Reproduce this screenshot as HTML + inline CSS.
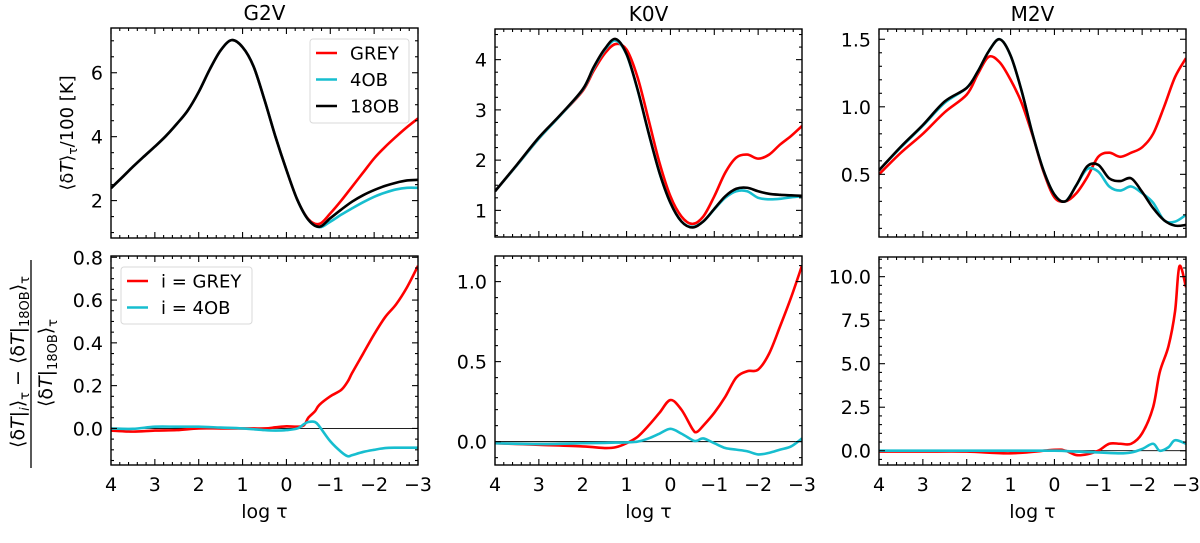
<!DOCTYPE html>
<html><head><meta charset="utf-8">
<style>
html,body{margin:0;padding:0;background:#fff;}
svg{display:block;font-family:"DejaVu Sans","Liberation Sans",sans-serif;}
</style></head>
<body>
<svg id="fig" width="1200" height="543" viewBox="0 0 1200 543" xmlns="http://www.w3.org/2000/svg">
<g id="labels">
<text x="73" y="133" font-size="18" text-anchor="middle" transform="rotate(-90 73 133)">⟨δ<tspan font-style="italic">T</tspan>⟩<tspan font-size="12" dy="4">τ</tspan><tspan dy="-4">/100 [K]</tspan></text>
<text x="24" y="362" font-size="19" text-anchor="middle" transform="rotate(-90 24 362)">⟨δ<tspan font-style="italic">T</tspan>|<tspan font-size="13" dy="5" font-style="italic">i</tspan><tspan dy="-5">⟩</tspan><tspan font-size="13" dy="5">τ</tspan><tspan dy="-5"> − ⟨δ</tspan><tspan font-style="italic">T</tspan>|<tspan font-size="13" dy="5">18OB</tspan><tspan dy="-5">⟩</tspan><tspan font-size="13" dy="5">τ</tspan></text>
<line x1="31" y1="260" x2="31" y2="468" stroke="#000" stroke-width="1.3"/>
<text x="52" y="363" font-size="19" text-anchor="middle" transform="rotate(-90 52 363)">⟨δ<tspan font-style="italic">T</tspan>|<tspan font-size="13" dy="5">18OB</tspan><tspan dy="-5">⟩</tspan><tspan font-size="13" dy="5">τ</tspan></text>
</g>
</svg>
<script>
// ---- data ----
const g2vTopX = [4,3.75,3.5,3.25,3,2.75,2.5,2.25,2,1.75,1.5,1.25,1,0.75,0.5,0.25,0,-0.25,-0.5,-0.75,-1,-1.25,-1.5,-1.75,-2,-2.25,-2.5,-2.75,-3];
const g2vTopGrey = [2.39,2.72,3.06,3.38,3.69,4.02,4.4,4.82,5.4,6.1,6.7,7.02,6.8,6.2,5.15,4.0,2.96,2.02,1.42,1.27,1.6,2.0,2.44,2.88,3.32,3.68,4.0,4.3,4.57];
const g2vTop4OB = [2.39,2.72,3.06,3.38,3.69,4.02,4.4,4.82,5.4,6.1,6.7,7.02,6.8,6.2,5.15,4.0,2.96,2.02,1.4,1.17,1.34,1.56,1.76,1.95,2.12,2.25,2.35,2.4,2.4];
const g2vTop18OB = [2.39,2.72,3.06,3.38,3.69,4.02,4.4,4.82,5.4,6.1,6.7,7.02,6.8,6.2,5.15,4.0,2.96,2.02,1.4,1.18,1.45,1.72,1.97,2.17,2.33,2.46,2.56,2.63,2.65];
const g2vBotX = [4,3.5,3,2.5,2,1.5,1,0.5,0.25,0,-0.25,-0.4,-0.5,-0.65,-0.75,-1,-1.25,-1.4,-1.5,-1.75,-2,-2.25,-2.5,-2.75,-3];
const g2vBotGrey = [-0.01,-0.015,-0.01,-0.008,0.0,0.0,0.0,0.0,0.005,0.01,0.008,0.015,0.05,0.08,0.11,0.15,0.18,0.22,0.26,0.35,0.44,0.52,0.58,0.66,0.76];
const g2vBot4OB = [0.0,-0.002,0.008,0.008,0.008,0.004,0.0,-0.008,-0.01,-0.008,0.0,0.02,0.03,0.03,0.01,-0.06,-0.11,-0.13,-0.125,-0.11,-0.1,-0.092,-0.09,-0.09,-0.09];
const k0vTopX = [4,3.5,3,2.5,2,1.75,1.5,1.25,1,0.75,0.5,0.25,0,-0.25,-0.5,-0.75,-1,-1.25,-1.5,-1.75,-2,-2.25,-2.5,-2.75,-3];
const k0vTopGrey = [1.38,1.9,2.43,2.9,3.38,3.78,4.12,4.31,4.2,3.65,2.81,1.95,1.28,0.88,0.73,0.88,1.28,1.75,2.05,2.11,2.03,2.11,2.31,2.48,2.68];
const k0vTop4OB = [1.38,1.9,2.43,2.9,3.4,3.83,4.19,4.38,4.1,3.4,2.55,1.75,1.15,0.78,0.67,0.78,1.02,1.25,1.38,1.38,1.25,1.22,1.23,1.26,1.28];
const k0vTop18OB = [1.38,1.91,2.45,2.91,3.41,3.85,4.21,4.41,4.11,3.41,2.55,1.75,1.15,0.78,0.66,0.78,1.03,1.28,1.43,1.45,1.38,1.33,1.31,1.3,1.29];
const k0vBotX = [4,3,2,1.5,1.25,1,0.75,0.5,0.25,0,-0.25,-0.5,-0.6,-0.75,-1,-1.25,-1.5,-1.75,-2,-2.25,-2.5,-2.75,-3];
const k0vBotGrey = [-0.01,-0.02,-0.03,-0.04,-0.035,-0.01,0.03,0.1,0.18,0.26,0.2,0.08,0.06,0.1,0.18,0.28,0.4,0.44,0.45,0.55,0.72,0.9,1.1];
const k0vBot4OB = [-0.01,-0.015,-0.01,-0.008,-0.006,-0.005,0.0,0.02,0.05,0.08,0.05,0.01,0.005,0.02,-0.01,-0.04,-0.05,-0.06,-0.08,-0.07,-0.05,-0.03,0.02];
const m2vTopX = [4,3.5,3,2.5,2,1.75,1.5,1.25,1,0.75,0.5,0.25,0,-0.25,-0.5,-0.75,-1,-1.25,-1.5,-1.75,-2,-2.25,-2.5,-2.75,-3];
const m2vTopGrey = [0.5,0.66,0.8,0.96,1.09,1.24,1.37,1.33,1.2,1.03,0.79,0.52,0.33,0.3,0.36,0.48,0.63,0.66,0.63,0.66,0.7,0.8,1.0,1.22,1.36];
const m2vTop4OB = [0.53,0.7,0.86,1.03,1.14,1.26,1.41,1.5,1.38,1.12,0.8,0.53,0.35,0.3,0.42,0.54,0.52,0.41,0.38,0.41,0.36,0.29,0.16,0.15,0.2];
const m2vTop18OB = [0.53,0.705,0.865,1.04,1.14,1.26,1.41,1.5,1.38,1.12,0.8,0.53,0.35,0.3,0.42,0.56,0.57,0.47,0.45,0.47,0.37,0.25,0.16,0.12,0.125];
const m2vBotGreyX = [4,3,2,1,0,-0.25,-0.5,-0.75,-1,-1.25,-1.5,-1.75,-2,-2.25,-2.4,-2.6,-2.75,-2.85,-3];
const m2vBotGrey = [-0.05,-0.05,-0.05,-0.15,0.05,0.0,-0.25,-0.2,0.0,0.4,0.4,0.4,1.0,2.5,4.5,6.0,8.0,10.6,9.4];
const m2vBot4OBX = [4,3,2,1,0,-0.5,-1,-1.5,-1.75,-2,-2.25,-2.4,-2.6,-2.75,-3];
const m2vBot4OB = [0,0,0,0,0,-0.05,-0.1,-0.15,-0.1,0.1,0.4,0.0,0.2,0.6,0.4];
const xTickLabels = ["4","3","2","1","0","−1","−2","−3"];

const NS="http://www.w3.org/2000/svg";
const svg=document.getElementById('fig');
function mk(tag,attrs,parent){const e=document.createElementNS(NS,tag);for(const k in attrs)e.setAttribute(k,attrs[k]);(parent||svg).appendChild(e);return e;}
function smoothPath(pts){
  let d="M"+pts[0][0].toFixed(2)+","+pts[0][1].toFixed(2);
  for(let i=0;i<pts.length-1;i++){
    const p0=pts[Math.max(0,i-1)],p1=pts[i],p2=pts[i+1],p3=pts[Math.min(pts.length-1,i+2)];
    const c1=[p1[0]+(p2[0]-p0[0])/6,p1[1]+(p2[1]-p0[1])/6];
    const c2=[p2[0]-(p3[0]-p1[0])/6,p2[1]-(p3[1]-p1[1])/6];
    d+=" C"+c1[0].toFixed(2)+","+c1[1].toFixed(2)+" "+c2[0].toFixed(2)+","+c2[1].toFixed(2)+" "+p2[0].toFixed(2)+","+p2[1].toFixed(2);
  }
  return d;
}
function panel(cfg){
  const g=mk('g',{});
  
  
  const L=cfg.x0,R=cfg.x0+307,T=cfg.y0,B=cfg.y1;
  const sx=v=>L+(4-v)/7*(R-L);
  const sy=v=>B-(v-cfg.ymin)/(cfg.ymax-cfg.ymin)*(B-T);
  const clip=mk('clipPath',{id:'c'+cfg.id},g);
  mk('rect',{x:L,y:T,width:R-L,height:B-T},clip);
  if(cfg.zero){const z=mk('line',{x1:L,x2:R,y1:sy(0),y2:sy(0),stroke:'#000','stroke-width':0.9},g);
    
    }
  const lines=mk('g',{'clip-path':'url(#c'+cfg.id+')'},g);
  cfg.series.forEach(s=>{
    const pts=s.xs.map((x,i)=>[sx(x),sy(s.ys[i])]);
    const p=mk('path',{d:smoothPath(pts),fill:'none',stroke:s.color,'stroke-width':2.6,'stroke-linejoin':'round'},lines);
    
    
  });
  const tk=mk('g',{stroke:'#000','stroke-width':1.1},g);
  for(let i=0;i<=35;i++){const v=4-i*0.2,x=sx(v),maj=(i%5===0),len=maj?6:3;
    mk('line',{x1:x,x2:x,y1:B,y2:B-len},tk);mk('line',{x1:x,x2:x,y1:T,y2:T+len},tk);}
  const start=Math.ceil(cfg.ymin/cfg.minor-1e-6);
  for(let k=start;k*cfg.minor<=cfg.ymax+1e-9;k++){const v=k*cfg.minor,y=sy(v);
    const maj=Math.abs(v/cfg.major-Math.round(v/cfg.major))<1e-6,len=maj?6:3;
    mk('line',{x1:L,x2:L+len,y1:y,y2:y},tk);mk('line',{x1:R,x2:R-len,y1:y,y2:y},tk);
    if(maj){const t=mk('text',{x:L-8,y:y+7,'font-size':19,'text-anchor':'end'},g);t.textContent=cfg.fmt(v);
      
      }}
  const fr=mk('rect',{x:L,y:T,width:R-L,height:B-T,fill:'none',stroke:'#000','stroke-width':1.4},g);
  
  
  if(cfg.xlabels){
    xTickLabels.forEach((lab,i)=>{const t=mk('text',{x:sx(4-i),y:B+26,'font-size':19,'text-anchor':'middle'},g);t.textContent=lab;
      
      });
    const xl=mk('text',{x:(L+R)/2,y:B+53,'font-size':19,'text-anchor':'middle'},g);xl.textContent='log τ';
    
    
  }
  if(cfg.title){const t=mk('text',{x:(L+R)/2,y:T-8,'font-size':20,'text-anchor':'middle'},g);t.textContent=cfg.title;
    
    }
  return {sx,sy,g};
}
const RED='#ff0000',CY='#17becf',BK='#000000';
const f0=v=>String(Math.round(v));
const f1=v=>v.toFixed(1);
panel({id:1,name:'g2v-top-panel',title:'G2V',x0:111,y0:28,y1:238,ymin:0.83,ymax:7.4,major:2,minor:0.5,fmt:f0,series:[
 {name:'g2v-grey-line',xs:g2vTopX,ys:g2vTopGrey,color:RED},{name:'g2v-4ob-line',xs:g2vTopX,ys:g2vTop4OB,color:CY},{name:'g2v-18ob-line',xs:g2vTopX,ys:g2vTop18OB,color:BK}]});
panel({id:2,name:'k0v-top-panel',title:'K0V',x0:495,y0:29,y1:237,ymin:0.47,ymax:4.61,major:1,minor:0.25,fmt:f0,series:[
 {name:'k0v-grey-line',xs:k0vTopX,ys:k0vTopGrey,color:RED},{name:'k0v-4ob-line',xs:k0vTopX,ys:k0vTop4OB,color:CY},{name:'k0v-18ob-line',xs:k0vTopX,ys:k0vTop18OB,color:BK}]});
panel({id:3,name:'m2v-top-panel',title:'M2V',x0:879,y0:29,y1:237,ymin:0.036,ymax:1.576,major:0.5,minor:0.1,fmt:f1,series:[
 {name:'m2v-grey-line',xs:m2vTopX,ys:m2vTopGrey,color:RED},{name:'m2v-4ob-line',xs:m2vTopX,ys:m2vTop4OB,color:CY},{name:'m2v-18ob-line',xs:m2vTopX,ys:m2vTop18OB,color:BK}]});
panel({id:4,name:'g2v-bottom-panel',x0:111,y0:256,y1:465,ymin:-0.171,ymax:0.806,major:0.2,minor:0.05,fmt:f1,zero:true,xlabels:true,series:[
 {name:'g2v-grey-diff-line',xs:g2vBotX,ys:g2vBotGrey,color:RED},{name:'g2v-4ob-diff-line',xs:g2vBotX,ys:g2vBot4OB,color:CY}]});
panel({id:5,name:'k0v-bottom-panel',x0:495,y0:256,y1:465,ymin:-0.146,ymax:1.16,major:0.5,minor:0.1,fmt:f1,zero:true,xlabels:true,series:[
 {name:'k0v-grey-diff-line',xs:k0vBotX,ys:k0vBotGrey,color:RED},{name:'k0v-4ob-diff-line',xs:k0vBotX,ys:k0vBot4OB,color:CY}]});
panel({id:6,name:'m2v-bottom-panel',x0:879,y0:257,y1:465,ymin:-0.82,ymax:11.13,major:2.5,minor:0.5,fmt:f1,zero:true,xlabels:true,series:[
 {name:'m2v-grey-diff-line',xs:m2vBotGreyX,ys:m2vBotGrey,color:RED},{name:'m2v-4ob-diff-line',xs:m2vBot4OBX,ys:m2vBot4OB,color:CY}]});
function legend(name,x,y,w,h,items){
  const g=mk('g',{});
  
  
  mk('rect',{x:x,y:y,width:w,height:h,rx:3,fill:'#fff','fill-opacity':0.85,stroke:'#d9d9d9','stroke-width':1},g);
  items.forEach((it,i)=>{const cy=y+14+i*26.5;
    const l=mk('line',{x1:x+6,x2:x+27,y1:cy,y2:cy,stroke:it.c,'stroke-width':2.6},g);
    
    
    const t=mk('text',{x:x+40,y:cy+6.5,'font-size':18},g);t.textContent=it.t;
    
    });
}
legend('legend-top',310,39,99,84,[{t:'GREY',c:RED},{t:'4OB',c:CY},{t:'18OB',c:BK}]);
legend('legend-bottom',121,267,131,57,[{t:'i = GREY',c:RED},{t:'i = 4OB',c:CY}]);
</script>
</body></html>
